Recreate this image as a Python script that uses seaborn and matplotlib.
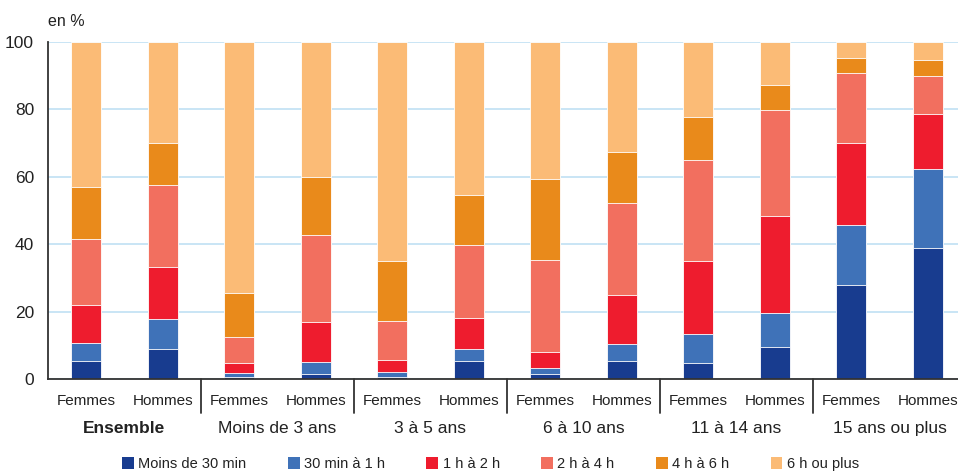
import matplotlib
matplotlib.use("Agg")
import matplotlib.pyplot as plt
import matplotlib.transforms as mtransforms
from matplotlib.patches import Patch
import numpy as np
import pandas as pd
import seaborn as sns

# data (en %), one list per duration class, bars ordered Femmes/Hommes per group
groups = ["Ensemble", "Moins de 3 ans", "3 à 5 ans", "6 à 10 ans", "11 à 14 ans", "15 ans ou plus"]
sexes = ["Femmes", "Hommes"]
series = ["Moins de 30 min", "30 min à 1 h", "1 h à 2 h", "2 h à 4 h", "4 h à 6 h", "6 h ou plus"]

moins_30min = [5.4, 9.0, 0.6, 1.5, 0.7, 5.4, 1.4, 5.3, 4.8, 9.5, 28.0, 39.0]
min30_1h = [5.4, 8.7, 1.1, 3.5, 1.3, 3.5, 1.8, 5.0, 8.5, 10.1, 17.7, 23.4]
h1_2h = [11.2, 15.6, 3.1, 12.0, 3.6, 9.3, 4.9, 14.7, 21.6, 28.9, 24.2, 16.3]
h2_4h = [19.6, 24.2, 7.6, 25.6, 11.7, 21.6, 27.1, 27.2, 30.0, 31.4, 21.0, 11.3]
h4_6h = [15.4, 12.5, 13.2, 17.3, 17.7, 14.8, 24.1, 15.2, 12.8, 7.4, 4.4, 4.7]
h6_plus = [43.0, 30.0, 74.4, 40.1, 65.0, 45.4, 40.7, 32.6, 22.3, 12.7, 4.7, 5.3]

colors = ["#183c8f", "#3f72b8", "#ee1c2e", "#f26f5f", "#e98a1b", "#fbbb76"]

values = np.array([moins_30min, min30_1h, h1_2h, h2_4h, h4_6h, h6_plus])
cum = values.cumsum(axis=0)
bars = [str(i) for i in range(len(moins_30min))]

sns.set_theme(style="white")
plt.rcParams["font.family"] = ["Liberation Sans", "DejaVu Sans"]

fig = plt.figure(figsize=(9.58, 4.71), dpi=100)
ax = fig.add_axes([48 / 958, 1 - 379 / 471, 918 / 958, 337 / 471])

# stacked bars: draw cumulative totals from the top class down
for k in range(len(series) - 1, -1, -1):
    df = pd.DataFrame({"bar": bars, "cum": cum[k]})
    sns.barplot(data=df, x="bar", y="cum", order=bars, color=colors[k],
                width=0.39, saturation=1, edgecolor="white", linewidth=0.6,
                ax=ax, zorder=3)

ax.set_xlim(-0.5, 11.5)
ax.set_ylim(0, 100)
ax.set_yticks([0, 20, 40, 60, 80, 100])
ax.yaxis.grid(True, color="#c5e3f5", linewidth=1.3, zorder=0)
ax.set_axisbelow(True)
for s in ["top", "right"]:
    ax.spines[s].set_visible(False)
for s in ["left", "bottom"]:
    ax.spines[s].set_color("#333333")
    ax.spines[s].set_linewidth(1.3)
ax.spines["bottom"].set_zorder(5)
ax.set_xlabel("")
ax.set_ylabel("")
ax.tick_params(axis="y", length=0, labelsize=12.5, colors="#222222", pad=10)
ax.set_xticks(range(len(bars)))
ax.set_xticklabels(sexes * len(groups))
ax.tick_params(axis="x", length=0, labelsize=11, colors="#222222", pad=11)

trans = mtransforms.blended_transform_factory(ax.transData, ax.transAxes)
for i, g in enumerate(groups):
    ax.text(2 * i + 0.5, -0.148, g, transform=trans, ha="center", va="center",
            fontsize=12.5, color="#222222", fontweight="bold" if i == 0 else "normal")
for i in range(1, len(groups)):
    ax.plot([2 * i - 0.5, 2 * i - 0.5], [0, -0.1], transform=trans, color="#333333",
            linewidth=1.3, clip_on=False)

fig.text(48 / 958, 1 - 21 / 471, "en %", ha="left", va="center", fontsize=11.5, color="#222222")

handles = [Patch(facecolor=c, edgecolor="none") for c in colors]
fig.legend(handles, series, loc="center", bbox_to_anchor=(0.512, 1 - 464 / 471), ncol=6,
           frameon=False, fontsize=10.5, handlelength=0.8, handleheight=0.8,
           handletextpad=0.3, columnspacing=2.85, labelcolor="#222222")

fig.savefig("out.png", dpi=100)
